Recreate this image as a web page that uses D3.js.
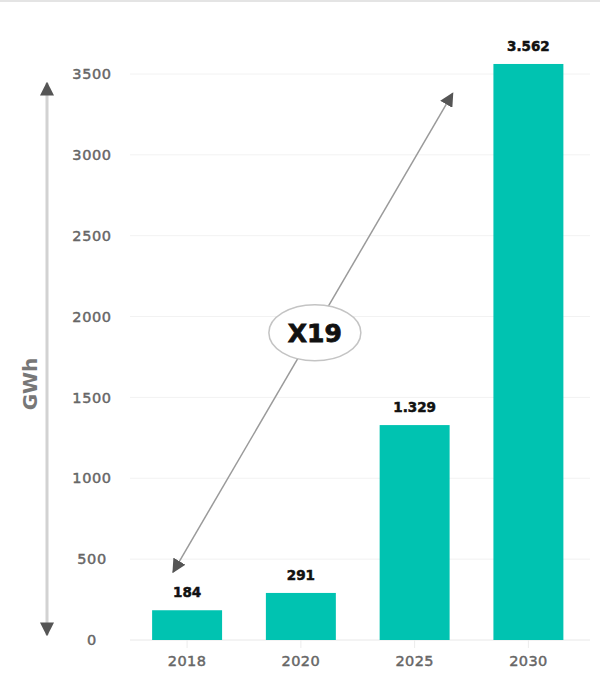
<!DOCTYPE html>
<html>
<head>
<meta charset="utf-8">
<script src="https://cdn.jsdelivr.net/npm/d3@7"></script>
<style>
  body { margin: 0; background: #fff; }
  svg { display: block; }
</style>
</head>
<body>
<div id="chart"></div>
<script>
const years = ["2018", "2020", "2025", "2030"];
const gwh = [184, 291, 1329, 3562];
const valueLabels = ["184", "291", "1.329", "3.562"];
const yTicks = [0, 500, 1000, 1500, 2000, 2500, 3000, 3500];
const growthLabel = "X19";
// annotation arrow ends, in data units (value axis)
const growthFrom = 420;
const growthTo = 3380;

const width = 605;
const height = 682;
const teal = "#00c3b1";
const font = "'DejaVu Sans', sans-serif";

const svg = d3.select("#chart")
    .append("svg")
    .attr("width", width)
    .attr("height", height);

const defs = svg.append("defs");
defs.append("marker")
    .attr("id", "head")
    .attr("viewBox", "0 0 10 10")
    .attr("refX", 9)
    .attr("refY", 5)
    .attr("markerUnits", "userSpaceOnUse")
    .attr("markerWidth", 14)
    .attr("markerHeight", 14)
    .attr("orient", "auto-start-reverse")
    .append("path")
    .attr("d", "M0,0 L10,5 L0,10 Z")
    .attr("fill", "#555");

// thin frame line at the top
svg.append("line")
    .attr("x1", 0).attr("x2", 600)
    .attr("y1", 1).attr("y2", 1)
    .attr("stroke", "#e4e4e4")
    .attr("stroke-width", 2);

const xScale = d3.scaleBand()
    .domain(years)
    .range([130.5, 585])
    .paddingInner(0.385)
    .paddingOuter(0.19);

const yScale = d3.scaleLinear()
    .domain([0, 3500])
    .range([640, 74]);

// grid
svg.append("g")
    .selectAll("line")
    .data(yTicks)
    .join("line")
    .attr("x1", 130).attr("x2", 590)
    .attr("y1", d => yScale(d)).attr("y2", d => yScale(d))
    .attr("stroke", d => d === 0 ? "#e8e8e8" : "#f2f2f2")
    .attr("stroke-width", 1);

// y tick labels
const yAxis = d3.axisLeft(yScale)
    .tickValues(yTicks)
    .tickFormat(d3.format("d"))
    .tickSize(0)
    .tickPadding(0);
const yAxisGroup = svg.append("g")
    .attr("transform", "translate(114,0)")
    .call(yAxis);
yAxisGroup.select(".domain").remove();
yAxisGroup.selectAll("text")
    .attr("x", -22)
    .attr("text-anchor", "middle")
    .attr("font-family", font)
    .attr("font-size", 14.5)
    .attr("letter-spacing", 0.6)
    .attr("fill", "#666")
    .attr("stroke", "#666")
    .attr("stroke-width", 0.45);

// x axis
const xAxis = d3.axisBottom(xScale).tickSize(8).tickPadding(8);
const xAxisGroup = svg.append("g")
    .attr("transform", "translate(0,640)")
    .call(xAxis);
xAxisGroup.select(".domain").remove();
xAxisGroup.selectAll("line").attr("stroke", "#ececec");
xAxisGroup.selectAll("text")
    .attr("font-family", font)
    .attr("font-size", 14.5)
    .attr("letter-spacing", 0.4)
    .attr("fill", "#666")
    .attr("stroke", "#666")
    .attr("stroke-width", 0.45);

// bars
svg.append("g")
    .selectAll("rect")
    .data(gwh)
    .join("rect")
    .attr("x", (d, i) => xScale(years[i]))
    .attr("y", d => yScale(d))
    .attr("width", xScale.bandwidth())
    .attr("height", d => yScale(0) - yScale(d))
    .attr("fill", teal);

// value labels
svg.append("g")
    .selectAll("text")
    .data(gwh)
    .join("text")
    .attr("x", (d, i) => xScale(years[i]) + xScale.bandwidth() / 2)
    .attr("y", d => yScale(d) - 13)
    .attr("text-anchor", "middle")
    .attr("font-family", font)
    .attr("font-weight", "bold")
    .attr("font-size", 13.5)
    .attr("fill", "#111")
    .attr("stroke", "#111")
    .attr("stroke-width", 0.5)
    .text((d, i) => valueLabels[i]);

// vertical GWh arrow
svg.append("line")
    .attr("x1", 47).attr("x2", 47)
    .attr("y1", yScale(0) - 5).attr("y2", yScale(3500) + 9)
    .attr("stroke", "#d2d2d2")
    .attr("stroke-width", 3)
    .attr("marker-start", "url(#head)")
    .attr("marker-end", "url(#head)");

svg.append("text")
    .attr("transform", "translate(37,384) rotate(-90)")
    .attr("text-anchor", "middle")
    .attr("font-family", font)
    .attr("font-weight", "bold")
    .attr("font-size", 20)
    .attr("fill", "#777")
    .text("GWh");

// growth arrow across the bars
const gx0 = xScale("2018") + xScale.bandwidth() / 2 - 14;
const gx1 = xScale("2025") + xScale.bandwidth() + 3;
const gy0 = yScale(growthFrom);
const gy1 = yScale(growthTo);
svg.append("line")
    .attr("x1", gx0).attr("y1", gy0)
    .attr("x2", gx1).attr("y2", gy1)
    .attr("stroke", "#9a9a9a")
    .attr("stroke-width", 1.5)
    .attr("marker-start", "url(#head)")
    .attr("marker-end", "url(#head)");

const cx = (gx0 + gx1) / 2 + 2;
const cy = (gy0 + gy1) / 2;
svg.append("ellipse")
    .attr("cx", cx).attr("cy", cy)
    .attr("rx", 46).attr("ry", 28)
    .attr("fill", "#fff")
    .attr("stroke", "#c4c4c4")
    .attr("stroke-width", 1.5);

svg.append("text")
    .attr("x", cx).attr("y", cy + 9)
    .attr("text-anchor", "middle")
    .attr("font-family", font)
    .attr("font-weight", "bold")
    .attr("font-size", 25)
    .attr("fill", "#111")
    .attr("stroke", "#111")
    .attr("stroke-width", 0.8)
    .text(growthLabel);
</script>
</body>
</html>
